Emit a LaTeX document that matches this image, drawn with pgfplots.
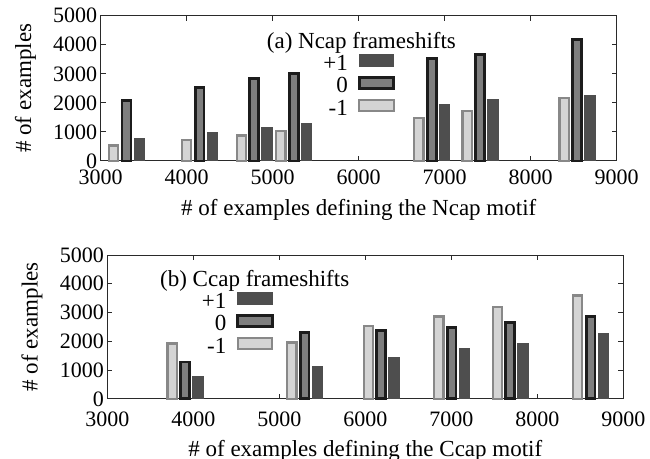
\documentclass[border=0pt]{standalone}
\usepackage{fontspec}
\setmainfont{Liberation Serif}
\usepackage{pgfplots}
\pgfplotsset{compat=1.18}

\definecolor{lfill}{HTML}{D4D4D4}
\definecolor{ledge}{HTML}{888888}
\definecolor{mfill}{HTML}{7E7E7E}
\definecolor{medge}{HTML}{1C1C1C}
\definecolor{dfill}{HTML}{4E4E4E}
\definecolor{axisc}{HTML}{2A2A2A}

\pgfplotsset{
  panel/.style={
    scale only axis, width=516pt,
    xmin=3000, xmax=9000, ymin=0, ymax=5000,
    xtick={3000,4000,...,9000}, ytick={0,1000,...,5000},
    tick align=inside, tick pos=both, major tick length=5pt,
    axis line style={line width=1pt, color=axisc},
    every tick/.style={line width=1pt, color=axisc},
    /pgf/number format/assume math mode=true,
    /pgf/number format/set thousands separator={},
    tick label style={font=\fontsize{22}{26}\selectfont},
    label style={font=\fontsize{23}{27}\selectfont},
    ylabel style={at={(axis description cs:-0.135,0.5)}, anchor=base},
    legend style={draw=none, fill=none, inner sep=0pt,
      font=\fontsize{23}{27}\selectfont, row sep=0.5pt, column sep=8pt,
      nodes={inner sep=2pt, text height=15pt, text depth=3pt}},
    legend cell align=right, legend plot pos=right, reverse legend,
    clip=false,
  },
  swatch/.style={legend image code/.code={\draw[##1] (0pt,-2pt) rectangle (34.5pt,9.5pt);}},
  minus/.style={ybar, bar shift=0pt, bar width=9.2pt, fill=lfill, draw=ledge, line width=2.3pt, swatch},
  zero/.style={ybar, bar shift=0pt, bar width=8.8pt, fill=mfill, draw=medge, line width=2.7pt, swatch},
  plus/.style={ybar, bar shift=0pt, bar width=10.5pt, fill=dfill, draw=dfill, line width=1pt, swatch},
}

\begin{document}
\begin{tikzpicture}
\useasboundingbox (0pt,0pt) rectangle (650pt,458pt);

% (a) Ncap
\begin{axis}[panel, at={(100.7pt,297pt)}, anchor=south west, height=145.3pt,
  xlabel={\# of examples defining the Ncap motif},
  ylabel={\# of examples},
  xticklabel style={anchor=base, yshift=-24pt},
  xlabel style={at={(axis description cs:0.5,-0.3717)}, anchor=base},
  legend style={at={(rel axis cs:0.5709,0.7433)}, anchor=north east}]
\addplot[minus] coordinates {(3150,530) (4000,730) (4635,880) (5095,1030) (6700,1490) (7260,1720) (8390,2160)};
\addlegendentry{-1}
\addplot[zero] coordinates {(3300,2080) (4150,2530) (4785,2840) (5245,3010) (6850,3520) (7410,3670) (8540,4170)};
\addlegendentry{0}
\addplot[plus] coordinates {(3450,790) (4300,980) (4935,1150) (5395,1290) (7000,1940) (7560,2110) (8690,2260)};
\addlegendentry{+1}
\node[anchor=base west, inner sep=0pt, font=\fontsize{23}{27}\selectfont]
  at (rel axis cs:0.3217,0.7756) {(a) Ncap frameshifts};
\end{axis}

% (b) Ccap
\begin{axis}[panel, at={(107.3pt,59.2pt)}, anchor=south west, height=143.8pt,
  xlabel={\# of examples defining the Ccap motif},
  ylabel={\# of examples},
  xticklabel style={anchor=base, yshift=-28pt},
  xlabel style={at={(axis description cs:0.5,-0.4047)}, anchor=base},
  legend style={at={(rel axis cs:0.3225,0.7497)}, anchor=north east}]
\addplot[minus] coordinates {(3755,1920) (5145,1960) (6035,2520) (6855,2865) (7535,3200) (8470,3595)};
\addlegendentry{-1}
\addplot[zero] coordinates {(3905,1280) (5295,2310) (6185,2370) (7005,2485) (7685,2655) (8620,2855)};
\addlegendentry{0}
\addplot[plus] coordinates {(4055,790) (5445,1130) (6335,1430) (7155,1740) (7835,1925) (8770,2280)};
\addlegendentry{+1}
\node[anchor=base west, inner sep=0pt, font=\fontsize{23}{27}\selectfont]
  at (rel axis cs:0.1021,0.7796) {(b) Ccap frameshifts};
\end{axis}
\end{tikzpicture}
\end{document}
